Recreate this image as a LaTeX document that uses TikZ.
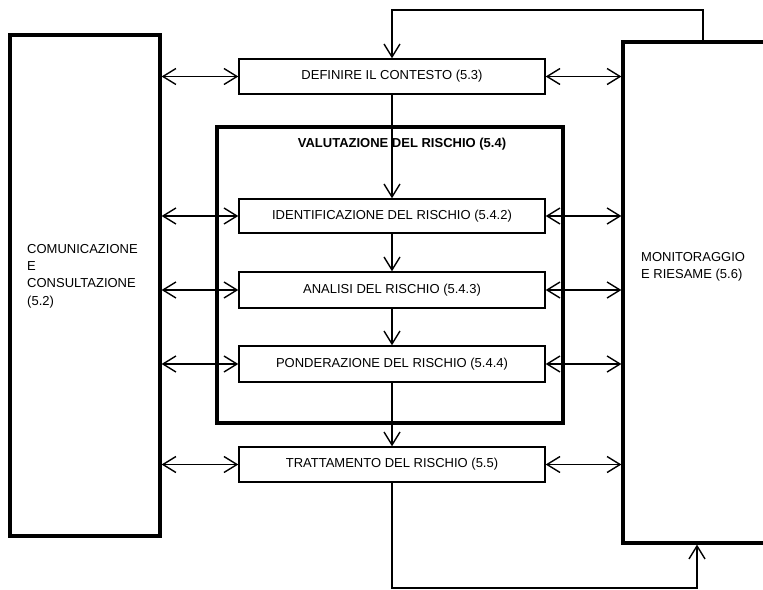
\documentclass[tikz,border=0pt]{standalone}
\usepackage{fontspec}
\setmainfont{Liberation Sans}
\usetikzlibrary{arrows.meta}

\tikzset{
  fase/.style={draw, line width=1.4pt, minimum width=306pt, minimum height=35pt,
    inner sep=0pt, font=\fontsize{13}{15}\selectfont},
  cornice/.style={draw, line width=3.2pt, inner sep=0pt},
  etich/.style={anchor=north west, align=left, inner sep=0pt,
    font=\fontsize{13}{17.3}\selectfont},
  freccia/.style={line width=1.4pt, -{Straight Barb[length=13pt,width=16pt]}},
  doppia/.style={line width=1.4pt, {Straight Barb[length=13pt,width=16pt]}-{Straight Barb[length=13pt,width=16pt]}}
}

\begin{document}
\begin{tikzpicture}[x=1pt, y=-1pt]
  \useasboundingbox (0,0) rectangle (763,589);
  \clip (0,0) rectangle (763,589);

  % lati
  \node[cornice, minimum width=150pt, minimum height=501pt] (com) at (85,285.5) {};
  \node[cornice, minimum width=150pt, minimum height=501pt] (mon) at (698,292.5) {};
  \node[etich] (comtxt) at (27,244) {COMUNICAZIONE\\E\\CONSULTAZIONE\\(5.2)};
  \node[etich] (montxt) at (641,252) {MONITORAGGIO\\E RIESAME (5.6)};

  % valutazione
  \node[cornice, minimum width=346pt, minimum height=296pt] (val) at (390,275) {};
  \node[font=\fontsize{13}{15}\selectfont\bfseries, inner sep=0pt] (valtxt) at (402,144) {VALUTAZIONE DEL RISCHIO (5.4)};

  % fasi
  \node[fase] (def) at (392,76.5) {DEFINIRE IL CONTESTO (5.3)};
  \node[fase, minimum height=34pt] (ide) at (392,216) {IDENTIFICAZIONE DEL RISCHIO (5.4.2)};
  \node[fase, minimum height=36pt] (ana) at (392,290) {ANALISI DEL RISCHIO (5.4.3)};
  \node[fase, minimum height=36pt] (pon) at (392,364) {PONDERAZIONE DEL RISCHIO (5.4.4)};
  \node[fase] (tra) at (392,464.5) {TRATTAMENTO DEL RISCHIO (5.5)};

  \draw[freccia] (def) -- (ide);
  \draw[freccia] (ide) -- (ana);
  \draw[freccia] (ana) -- (pon);
  \draw[freccia] (pon) -- (tra);

  \foreach \f in {def,ide,ana,pon,tra} {
    \draw[doppia] (\f.west -| com.east) -- (\f.west);
    \draw[doppia] (\f.east) -- (\f.east -| mon.west);
  }

  % ritorni
  \coordinate (giroA) at (703,10);
  \coordinate (giroB) at (697,588);
  \draw[freccia] (giroA |- mon.north) -- (giroA) -| (def.north);
  \draw[freccia] (tra.south) |- (giroB) -- (giroB |- mon.south);
\end{tikzpicture}
\end{document}
